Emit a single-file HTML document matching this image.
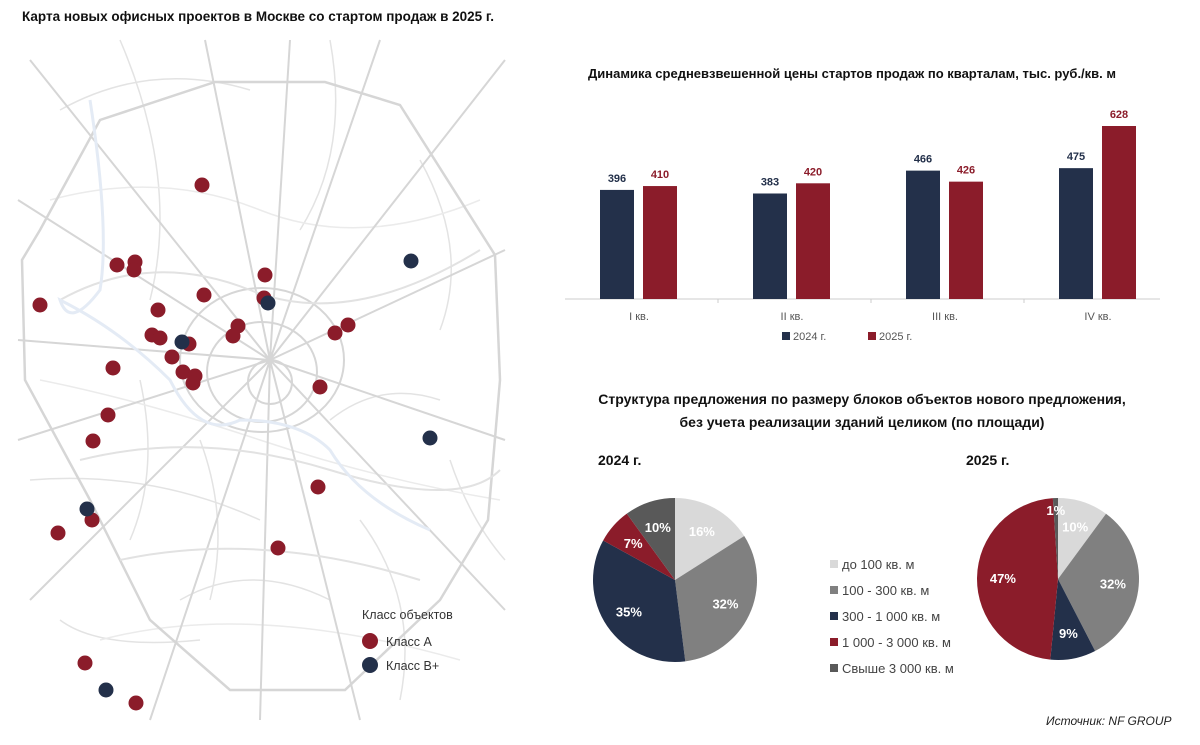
<!DOCTYPE html>
<html><head><meta charset="utf-8">
<style>
body{margin:0;width:1200px;height:745px;background:#fff;font-family:"Liberation Sans",sans-serif;position:relative;overflow:hidden}
.t{position:absolute;font-weight:bold;color:#111;font-size:13px}
</style></head><body>
<div class="t" style="left:22px;top:9px;font-size:13.5px">Карта новых офисных проектов в Москве со стартом продаж в 2025 г.</div>
<svg style="position:absolute;left:0;top:0" width="520" height="745">
<g fill="none" stroke="#e3e3e3" stroke-width="1.5">
<path d="M60,110 Q150,60 250,90 M330,40 Q350,150 300,230 M120,40 Q180,180 150,300 M420,160 Q470,250 440,330 M30,480 Q150,470 260,520 M360,520 Q420,600 400,700 M180,600 Q250,560 330,600 M60,620 Q100,650 200,640 M450,460 Q470,520 505,560 M200,440 Q230,520 210,600 M330,420 Q380,380 440,400 M140,380 Q160,470 130,540"/>
<path d="M50,200 Q160,170 260,210 T480,200 M40,380 Q140,400 260,440 T500,500 M100,640 Q250,600 460,660" stroke="#ebebeb"/>
</g>
<g fill="none" stroke="#d6d6d6" stroke-width="2">
<polygon points="40,230 100,120 215,82 325,82 400,105 495,255 500,380 488,520 440,600 345,690 230,690 150,620 90,500 25,380 22,260" stroke-width="2.5"/>
<ellipse cx="262" cy="360" rx="82" ry="72"/>
<ellipse cx="270" cy="382" rx="22" ry="22"/>
<ellipse cx="262" cy="372" rx="55" ry="50"/>
<path d="M270,360 L30,60 M270,360 L205,40 M270,360 L290,40 M270,360 L380,40 M270,360 L505,60 M270,360 L505,250 M270,360 L505,440 M270,360 L505,610 M270,360 L360,720 M270,360 L260,720 M270,360 L150,720 M270,360 L30,600 M270,360 L18,440 M270,360 L18,340 M270,360 L18,200"/>
<path d="M60,300 Q150,250 250,290 T480,250 M80,460 Q200,430 330,470 T500,470 M120,560 Q260,530 420,580" stroke="#e2e2e2"/>
</g>
<path d="M90,100 Q110,230 100,290 Q70,330 60,300 Q120,330 170,380 Q200,440 240,420 Q300,420 330,450 Q360,500 430,530" fill="none" stroke="#e4ebf5" stroke-width="3"/>
<g id="dots"></g>
<text x="362" y="619" font-size="12.5" fill="#333">Класс объектов</text>
<circle cx="370" cy="641" r="8" fill="#8b1c2a"/><text x="386" y="646" font-size="12.5" fill="#333">Класс А</text>
<circle cx="370" cy="665" r="8" fill="#23304a"/><text x="386" y="670" font-size="12.5" fill="#333">Класс В+</text>
</svg>

<div class="t" style="left:588px;top:66px;font-size:13px">Динамика средневзвешенной цены стартов продаж по кварталам, тыс. руб./кв. м</div>
<svg id="bars" style="position:absolute;left:0;top:0" width="1200" height="350"></svg>

<div class="t" style="left:560px;top:388px;width:604px;text-align:center;line-height:23px;font-size:14px">Структура предложения по размеру блоков объектов нового предложения,<br>без учета реализации зданий целиком (по площади)</div>
<div class="t" style="left:598px;top:452px;font-size:14px">2024 г.</div>
<div class="t" style="left:966px;top:452px;font-size:14px">2025 г.</div>
<svg id="pies" style="position:absolute;left:0;top:0" width="1200" height="745"></svg>
<div style="position:absolute;left:1046px;top:714px;font-size:12px;font-style:italic;color:#222">Источник: NF GROUP</div>

<script>
const NS="http://www.w3.org/2000/svg";
function mk(p,t,a){const e=document.createElementNS(NS,t);for(const k in a)e.setAttribute(k,a[k]);p.appendChild(e);return e;}
// map dots
const redDots=[[202,185],[117,265],[135,262],[134,270],[265,275],[204,295],[40,305],[264,298],[158,310],[238,326],[348,325],[335,333],[152,335],[160,338],[233,336],[189,344],[172,357],[113,368],[183,372],[195,376],[193,383],[320,387],[108,415],[93,441],[318,487],[92,520],[58,533],[278,548],[85,663],[136,703]];
const blueDots=[[411,261],[268,303],[182,342],[430,438],[87,509],[106,690]];
const dg=document.getElementById('dots');
redDots.forEach(d=>{const c=mk(dg,'circle',{cx:d[0],cy:d[1],r:7.5,fill:'#8b1c2a'});

});
blueDots.forEach(d=>{const c=mk(dg,'circle',{cx:d[0],cy:d[1],r:7.5,fill:'#23304a'});

});

// bar chart
const quarters=["I кв.","II кв.","III кв.","IV кв."];
const v2024=[396,383,466,475];
const v2025=[410,420,426,628];
const bs=document.getElementById('bars');
const base=299, sc=173/628, x0=565, gw=153, bw=34;
const y=v=>base-v*sc;
mk(bs,'line',{x1:565,x2:1160,y1:base,y2:base,stroke:'#ccc'});
quarters.forEach((q,i)=>{
 const cx=x0+gw*i+74;
 if(i>0)mk(bs,'line',{x1:x0+gw*i,x2:x0+gw*i,y1:base,y2:base+4,stroke:'#ccc'});
 const b1=mk(bs,'rect',{x:cx-39,y:y(v2024[i]),width:bw,height:v2024[i]*sc,fill:'#23304a'});
 
 
 const b2=mk(bs,'rect',{x:cx+4,y:y(v2025[i]),width:bw,height:v2025[i]*sc,fill:'#8b1c2a'});
 
 
 const l1=mk(bs,'text',{x:cx-22,y:y(v2024[i])-8,'text-anchor':'middle','font-size':11,'font-weight':'bold',fill:'#23304a'});l1.textContent=v2024[i];
 
 
 const l2=mk(bs,'text',{x:cx+21,y:y(v2025[i])-8,'text-anchor':'middle','font-size':11,'font-weight':'bold',fill:'#8b1c2a'});l2.textContent=v2025[i];
 
 
 const ql=mk(bs,'text',{x:cx,y:320,'text-anchor':'middle','font-size':11,fill:'#555'});ql.textContent=q;
 
 
});
mk(bs,'rect',{x:782,y:332,width:8,height:8,fill:'#23304a'});
const lg1=mk(bs,'text',{x:793,y:340,'font-size':11,fill:'#555'});lg1.textContent='2024 г.';


mk(bs,'rect',{x:868,y:332,width:8,height:8,fill:'#8b1c2a'});
const lg2=mk(bs,'text',{x:879,y:340,'font-size':11,fill:'#555'});lg2.textContent='2025 г.';



// pies
const sizeCats=["до 100 кв. м","100 - 300 кв. м","300 - 1 000 кв. м","1 000 - 3 000 кв. м","Свыше 3 000 кв. м"];
const share2024=[16,32,35,7,10];
const share2025=[10,32,9,47,1];
const colors=['#d9d9d9','#808080','#23304a','#8b1c2a','#595959'];
const ps=document.getElementById('pies');
function pie(cx,cy,r,vals,name){
 const tot=vals.reduce((a,b)=>a+b,0);let a=0;
 vals.forEach((v,i)=>{
  const a0=a/tot*2*Math.PI,a1=(a+v)/tot*2*Math.PI;a+=v;
  const p=(t,rr)=>[cx+rr*Math.sin(t),cy-rr*Math.cos(t)];
  const s=p(a0,r),e=p(a1,r);
  const sl=mk(ps,'path',{d:`M${cx},${cy}L${s[0]},${s[1]}A${r},${r} 0 ${a1-a0>Math.PI?1:0} 1 ${e[0]},${e[1]}Z`,fill:colors[i]});
  
  
  const m=(a0+a1)/2, rr=v<3?r*0.85:r*0.68, lp=p(m,rr);
  const tx=mk(ps,'text',{x:lp[0],y:lp[1]+5,'text-anchor':'middle','font-size':13,'font-weight':'bold',fill:'#fff'});tx.textContent=v+'%';
  
  
 });
}
pie(675,580,82,share2024,'pie-2024');
pie(1058,579,81,share2025,'pie-2025');
sizeCats.forEach((c,i)=>{
 mk(ps,'rect',{x:830,y:560+i*26,width:8,height:8,fill:colors[i]});
 const t=mk(ps,'text',{x:842,y:569+i*26,'font-size':13,fill:'#444'});t.textContent=c;
 
 
});
</script>
</body></html>
